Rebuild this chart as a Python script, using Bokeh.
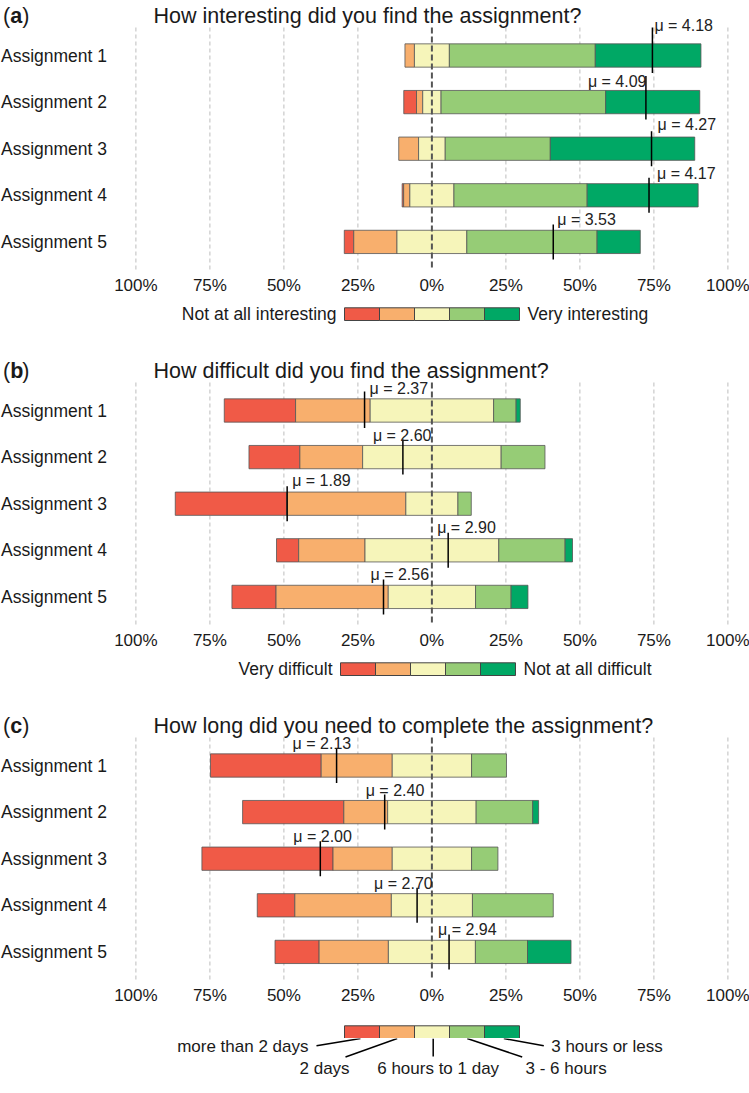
from bokeh.plotting import figure
from bokeh.layouts import column
from bokeh.models import Range1d, FixedTicker
from bokeh.embed import file_html
from bokeh.resources import INLINE
from bokeh.core.properties import value

# ---------------- data ----------------
assignments = ["Assignment 1", "Assignment 2", "Assignment 3", "Assignment 4", "Assignment 5"]
ticks = [-100, -75, -50, -25, 0, 25, 50, 75, 100]
tick_labels = ["100%", "75%", "50%", "25%", "0%", "25%", "50%", "75%", "100%"]

# (a) How interesting ... (levels 1..5, percent of answers per assignment)
int_1 = [0.0, 4.3, 0.0, 0.5, 3.2]
int_2 = [3.2, 2.1, 6.7, 2.1, 14.6]
int_3 = [11.8, 6.2, 9.0, 14.9, 23.6]
int_4 = [49.3, 55.6, 35.5, 45.0, 44.0]
int_5 = [35.7, 31.8, 48.8, 37.5, 14.6]
int_mu = [4.18, 4.09, 4.27, 4.17, 3.53]

# (b) How difficult ...
dif_1 = [24.1, 17.2, 37.7, 7.5, 14.9]
dif_2 = [25.2, 21.2, 40.2, 22.4, 37.9]
dif_3 = [41.7, 46.8, 17.6, 45.2, 29.5]
dif_4 = [7.6, 14.8, 4.5, 22.4, 12.0]
dif_5 = [1.4, 0.0, 0.0, 2.5, 5.7]
dif_mu = [2.37, 2.60, 1.89, 2.90, 2.56]

# (c) How long ...
time_1 = [37.4, 34.2, 44.3, 12.7, 14.9]
time_2 = [24.0, 14.8, 20.0, 32.6, 23.4]
time_3 = [26.8, 29.9, 26.8, 27.4, 29.4]
time_4 = [11.8, 19.1, 8.9, 27.3, 17.6]
time_5 = [0.0, 2.0, 0.0, 0.0, 14.7]
time_mu = [2.13, 2.40, 2.00, 2.70, 2.94]

titles = ["How interesting did you find the assignment?",
          "How difficult did you find the assignment?",
          "How long did you need to complete the assignment?"]
letters = ["a", "b", "c"]
int_legend = ["Not at all interesting", "Very interesting"]
dif_legend = ["Very difficult", "Not at all difficult"]
time_legend = ["more than 2 days", "2 days", "6 hours to 1 day", "3 - 6 hours", "3 hours or less"]

# ---------------- style / layout ----------------
colors = ["#F05A47", "#F8AF6D", "#F6F5BA", "#96CC76", "#00A865"]
FONT = "Liberation Sans"
TXT = "#1a1a1a"
W = 749
MAIN_H = 300          # frame 270 + axis 30
FRAME_H = 270
UNIT = 46.6           # px per assignment row
ROW0 = 55             # px of first bar centre from panel top
ZERO = 431.4          # px of 0 %
PPP = 2.96            # px per percent

# label placement for the mean markers (px): x offset from line, height above bar centre, line top
lab_a = dict(dx=[2, -58, 6, 8, 4], dy=[30, 21, 24, 22, 22], top=[28, 26, 17.5, 17.5, 17.5])
lab_b = dict(dx=[5, -30, 5, -11, -13], dy=[22, 22, 23, 23, 22], top=[19, 17.5, 17.5, 17.5, 17.5])
lab_c = dict(dx=[-44, -19, -27, -43, -11], dy=[22, 22, 22, 22, 22], top=[17.5] * 5)


def X(px):
    return (px - ZERO) / PPP


def Y(px):
    return (px - ROW0) / UNIT


def blank(h):
    p = figure(width=W, height=h, x_range=Range1d(0, W), y_range=Range1d(h, 0),
               output_backend="svg", toolbar_location=None, min_border=0,
               x_axis_location=None, y_axis_location=None)
    p.grid.visible = False
    p.outline_line_color = None
    return p


def main(letter, title, levels, mu, lab):
    p = figure(width=W, height=MAIN_H, x_range=Range1d(X(0), X(W)),
               y_range=Range1d(Y(FRAME_H), Y(0)),
               output_backend="svg", toolbar_location=None,
               min_border_left=0, min_border_right=0, min_border_top=0, min_border_bottom=MAIN_H - FRAME_H,
               y_axis_location=None)
    p.outline_line_color = None
    p.grid.visible = False

    p.xaxis.ticker = FixedTicker(ticks=ticks)
    p.xaxis.major_label_overrides = {t: l for t, l in zip(ticks, tick_labels)}
    p.xaxis.axis_line_color = None
    p.xaxis.major_tick_line_color = None
    p.xaxis.minor_tick_line_color = None
    p.xaxis.major_label_text_font = FONT
    p.xaxis.major_label_text_font_size = "17px"
    p.xaxis.major_label_text_color = TXT
    p.xaxis.major_label_standoff = -1

    # title
    tc = dict(text_font=value(FONT), text_font_size="21.5px", text_baseline="middle",
              text_align="left", text_color=TXT)
    yt = Y(15)
    p.text(x=[X(2.5)], y=[yt], text=["("], **tc)
    p.text(x=[X(9.7)], y=[yt], text=[letter], text_font_style="bold", **tc)
    p.text(x=[X(21.7)], y=[yt], text=[")"], **tc)
    p.text(x=[X(153)], y=[yt], text=[title], **tc)

    # category labels
    n = len(assignments)
    p.text(x=[X(0.5)] * n, y=list(range(n)), text=assignments, text_font=value(FONT),
           text_font_size="17.5px", text_baseline="middle", text_align="left", text_color=TXT)

    # grid lines
    gx = [t for t in ticks if t != 0]
    p.segment(x0=gx, x1=gx, y0=[Y(27)] * len(gx), y1=[Y(FRAME_H)] * len(gx),
              line_color="#BDBDBD", line_width=1, line_dash="4 3")

    totals = [sum(l[i] for l in levels) for i in range(n)]
    starts = [-(levels[0][i] + levels[1][i] + levels[2][i] / 2) for i in range(n)]
    for k in range(5):
        ys, lefts, rights = [], [], []
        for i in range(n):
            if levels[k][i] <= 0:
                continue
            l0 = starts[i] + sum(levels[j][i] for j in range(k))
            ys.append(i)
            lefts.append(l0)
            rights.append(l0 + levels[k][i])
        p.hbar(y=ys, left=lefts, right=rights, height=0.5, fill_color=colors[k],
               line_color="#555555", line_width=0.8)

    mx = [starts[i] + mu[i] / 5 * totals[i] for i in range(n)]
    p.segment(x0=mx, y0=[i - lab["top"][i] / UNIT for i in range(n)],
              x1=mx, y1=[i + 17.5 / UNIT for i in range(n)],
              line_color="black", line_width=1.5)

    # zero line
    p.segment(x0=[0], x1=[0], y0=[Y(27)], y1=[Y(FRAME_H)], line_color="#555555",
              line_width=2, line_dash="6 3")

    p.text(x=mx, y=[i - lab["dy"][i] / UNIT for i in range(n)],
           text=["\u03bc = %.2f" % m for m in mu], x_offset=lab["dx"],
           text_font=value(FONT), text_font_size="16px",
           text_baseline="middle", text_align="left", text_color="#222222")
    return p


def boxes(p, left, top, h=12.7, bw=35):
    p.quad(left=[left + k * bw for k in range(5)], right=[left + (k + 1) * bw for k in range(5)],
           top=[top] * 5, bottom=[top + h] * 5, fill_color=colors, line_color="#444444", line_width=1)


def legend_lr(texts, left, h=55, top=7.3):
    p = blank(h)
    boxes(p, left, top)
    yc = top + 12.7 / 2
    common = dict(text_font=value(FONT), text_font_size="17.5px", text_baseline="middle", text_color=TXT)
    p.text(x=[left - 8], y=[yc], text=[texts[0]], text_align="right", **common)
    p.text(x=[left + 175 + 8], y=[yc], text=[texts[1]], text_align="left", **common)
    return p


def legend_time_boxes(left, h=28, top=15.3):
    p = blank(h)
    boxes(p, left, top)
    return p


def legend_time_labels(texts, bl, h=39):
    # y = 0 is the bottom edge of the colour boxes
    p = blank(h)
    common = dict(text_font=value(FONT), text_font_size="17px", text_baseline="middle", text_color=TXT)
    r1, r2 = 8, 30
    p.text(x=[bl - 36], y=[r1], text=[texts[0]], text_align="right", **common)
    p.text(x=[bl - 45, bl + 32.7, bl + 181], y=[r2] * 3, text=[texts[1], texts[2], texts[3]],
           text_align="left", **common)
    p.text(x=[bl + 206.7], y=[r1], text=[texts[4]], text_align="left", **common)
    p.segment(x0=[bl - 28, bl + 1, bl + 88.7, bl + 122.7, bl + 159.3],
              y0=[7.3, 18.5, 0, 0, 0],
              x1=[bl + 16, bl + 52.7, bl + 88.7, bl + 177.7, bl + 199.3],
              y1=[0, 0, 18, 18.5, 7.3],
              line_color="black", line_width=1.5)
    return p


pa = main(letters[0], titles[0], [int_1, int_2, int_3, int_4, int_5], int_mu, lab_a)
pb = main(letters[1], titles[1], [dif_1, dif_2, dif_3, dif_4, dif_5], dif_mu, lab_b)
pc = main(letters[2], titles[2], [time_1, time_2, time_3, time_4, time_5], time_mu, lab_c)

layout = column(
    pa, legend_lr(int_legend, 344),
    pb, legend_lr(dif_legend, 340),
    pc, legend_time_boxes(344), legend_time_labels(time_legend, 344),
)

open("out.html", "w").write(file_html(layout, INLINE))
